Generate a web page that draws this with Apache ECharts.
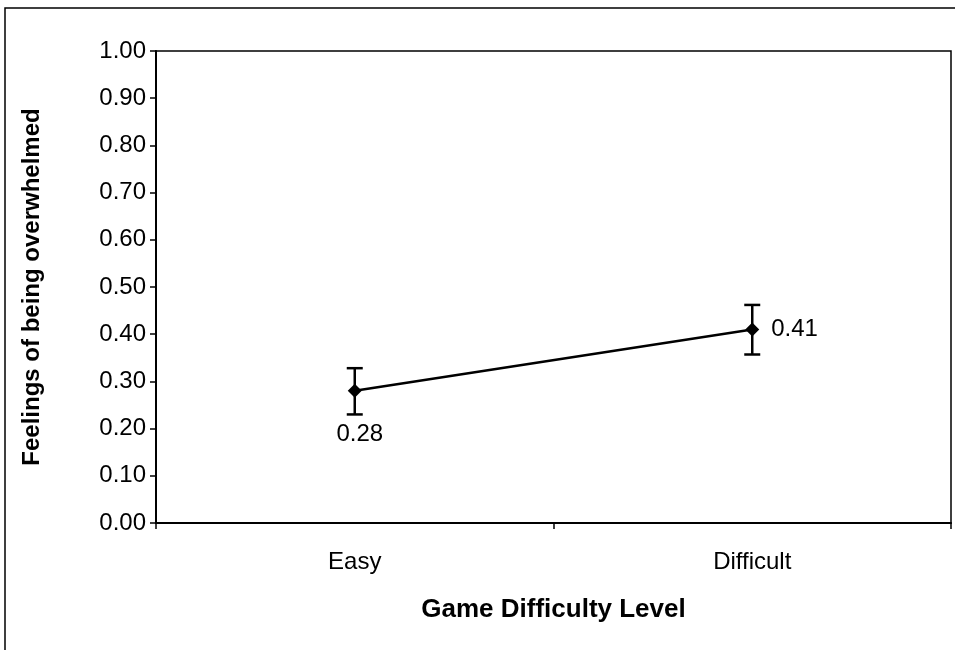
<!DOCTYPE html>
<html><head><meta charset="utf-8">
<script src="https://cdn.jsdelivr.net/npm/echarts@6/dist/echarts.min.js"></script>
<style>html,body{margin:0;padding:0;background:#fff}#c{width:955px;height:650px}</style>
</head><body><div id="c"></div>
<script>
var categories = ['Easy', 'Difficult'];
var means = [0.28, 0.41];
var errLow = [0.23, 0.357];
var errHigh = [0.328, 0.462];
var yTicks = {min: 0, max: 1, interval: 0.1};

var chart = echarts.init(document.getElementById('c'));
var font = 'Arial, "Liberation Sans", sans-serif';
chart.setOption({
  animation: false,
  backgroundColor: '#fff',
  graphic: [{type: 'rect', shape: {x: 5, y: 8, width: 1000, height: 700}, style: {fill: 'none', stroke: '#000', lineWidth: 1.5}, silent: true}],
  grid: {left: 156, right: 4, top: 51, bottom: 127, show: true, borderColor: '#000', borderWidth: 1.5, containLabel: false},
  xAxis: {
    type: 'category', data: categories, boundaryGap: true,
    axisLine: {lineStyle: {color: '#000', width: 2}},
    axisTick: {show: true, length: 6, lineStyle: {color: '#000', width: 1.5}},
    axisLabel: {color: '#000', fontSize: 24, fontFamily: font, margin: 27},
    name: 'Game Difficulty Level', nameLocation: 'middle', nameGap: 74,
    nameTextStyle: {color: '#000', fontSize: 26, fontWeight: 'bold', fontFamily: font}
  },
  yAxis: {
    type: 'value', min: yTicks.min, max: yTicks.max, interval: yTicks.interval,
    axisLine: {show: true, lineStyle: {color: '#000', width: 2}},
    axisTick: {show: true, length: 6, lineStyle: {color: '#000', width: 1.5}},
    splitLine: {show: false},
    axisLabel: {color: '#000', fontSize: 24, fontFamily: font, margin: 10, formatter: function(v){return v.toFixed(2);}},
    name: 'Feelings of being overwhelmed', nameLocation: 'middle', nameGap: 112, nameRotate: 90,
    nameTextStyle: {color: '#000', fontSize: 24, fontWeight: 'bold', fontFamily: font}
  },
  series: [
    {
      type: 'line', data: means, symbol: 'diamond', symbolSize: 14,
      lineStyle: {color: '#000', width: 2.5}, itemStyle: {color: '#000'},
      label: {show: true, color: '#000', fontSize: 24, fontFamily: font, formatter: function(p){return p.value.toFixed(2);}},
      z: 3
    },
    {
      type: 'custom',
      data: categories.map(function(c, i){return [i, errLow[i], errHigh[i]];}),
      renderItem: function(params, api){
        var lo = api.coord([api.value(0), api.value(1)]);
        var hi = api.coord([api.value(0), api.value(2)]);
        var w = 8;
        var st = {stroke: '#000', lineWidth: 2.5};
        return {type: 'group', children: [
          {type: 'line', shape: {x1: hi[0], y1: hi[1], x2: lo[0], y2: lo[1]}, style: st},
          {type: 'line', shape: {x1: hi[0]-w, y1: hi[1], x2: hi[0]+w, y2: hi[1]}, style: st},
          {type: 'line', shape: {x1: lo[0]-w, y1: lo[1], x2: lo[0]+w, y2: lo[1]}, style: st}
        ]};
      },
      z: 2
    }
  ]
});
chart.setOption({series: [{
  data: [
    {value: means[0], label: {position: 'bottom', distance: 25, offset: [5, 0]}},
    {value: means[1], label: {position: 'right', distance: 12}}
  ]
}]});
</script></body></html>
